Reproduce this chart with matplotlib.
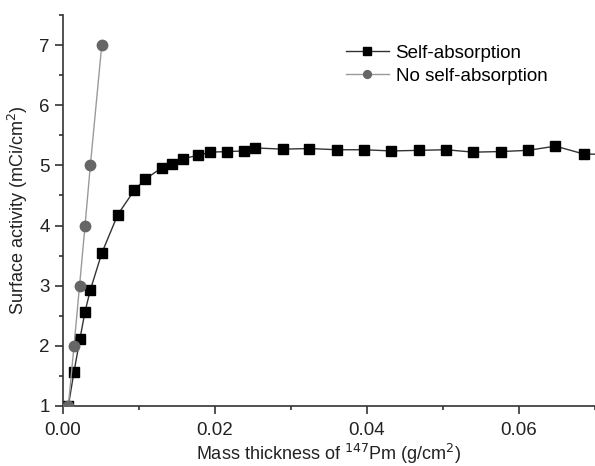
import numpy as np
import matplotlib.pyplot as plt
from matplotlib.ticker import MultipleLocator, FormatStrFormatter

plt.rcParams['font.family'] = ['Liberation Sans', 'DejaVu Sans']

# mass thickness (g/cm2) and surface activity (mCi/cm2)
x_self = [0.0007, 0.00145, 0.00222, 0.0029, 0.0036, 0.0051, 0.0072, 0.0094, 0.0108,
          0.0130, 0.0144, 0.0158, 0.0178, 0.0194, 0.0216, 0.0238, 0.0253, 0.0289,
          0.0324, 0.0361, 0.0396, 0.0432, 0.0468, 0.0504, 0.0540, 0.0576, 0.0612,
          0.0648, 0.0685, 0.0722]
y_self = [1.0, 1.57, 2.11, 2.57, 2.93, 3.54, 4.18, 4.59, 4.77,
          4.96, 5.02, 5.11, 5.17, 5.22, 5.23, 5.24, 5.29, 5.27,
          5.28, 5.26, 5.26, 5.24, 5.25, 5.26, 5.22, 5.23, 5.25,
          5.32, 5.19, 5.18]

x_noself = [0.0007, 0.00145, 0.00218, 0.0029, 0.0036, 0.0051]
y_noself = [1, 2, 3, 4, 5, 7]

fig = plt.figure(figsize=(5.95, 4.66), dpi=100)
ax = fig.add_axes([63/595, 60/466, 532/595, 391/466])

ax.plot(x_self, y_self, '-s', color='#333333', lw=1, ms=7, mfc='black', mec='black',
        label='Self-absorption', zorder=2)
ax.plot(x_noself, y_noself, '-o', color='#9a9a9a', lw=1, ms=7.5, mfc='#666666', mec='#666666',
        label='No self-absorption', zorder=3)

ax.set_xlim(0, 0.07)
ax.set_ylim(1, 7.5)
ax.xaxis.set_major_locator(MultipleLocator(0.02))
ax.xaxis.set_minor_locator(MultipleLocator(0.01))
ax.xaxis.set_major_formatter(FormatStrFormatter('%.2f'))
ax.yaxis.set_major_locator(MultipleLocator(1))
ax.yaxis.set_minor_locator(MultipleLocator(0.5))

for s in ['top', 'right']:
    ax.spines[s].set_visible(False)
for s in ['left', 'bottom']:
    ax.spines[s].set_linewidth(1.2)
    ax.spines[s].set_color('#333333')

ax.tick_params(which='major', direction='out', length=5.5, width=1.2, labelsize=13.5,
               colors='#333333', labelcolor='#222222')
ax.tick_params(which='minor', direction='out', length=3, width=1.2, colors='#333333')
ax.tick_params(axis='x', which='major', pad=6)
ax.tick_params(axis='y', which='major', pad=4)

ax.set_xlabel('Mass thickness of $^{147}$Pm (g/cm$^2$)', fontsize=13, color='#222222', labelpad=2)
ax.set_ylabel('Surface activity (mCi/cm$^2$)', fontsize=13, color='#222222', labelpad=7)

ax.legend(loc='upper left', bbox_to_anchor=(0.50, 0.967), frameon=False, fontsize=13.5,
          handlelength=2.3, handletextpad=0.35, labelspacing=0.3, markerscale=0.75)

fig.savefig('out.png', dpi=100)
